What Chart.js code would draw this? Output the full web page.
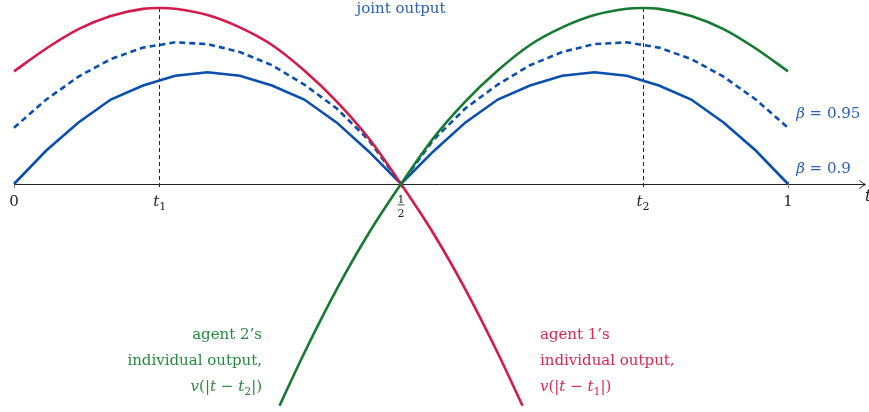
<!DOCTYPE html>
<html><head><meta charset="utf-8">
<script src="https://cdn.jsdelivr.net/npm/chart.js@4"></script>
<style>html,body{margin:0;padding:0;background:#fff;}#wrap{width:869px;height:412px;}</style>
</head><body><div id="wrap"><canvas id="c" width="869" height="412"></canvas></div>
<script>
// ---- data (t on [0,1], output in units of peak individual output) ----
const tGrid = [0, 0.0417, 0.0833, 0.125, 0.1667, 0.2083, 0.25, 0.2917, 0.3333, 0.375, 0.4167, 0.4583, 0.5,
               0.5417, 0.5833, 0.625, 0.6667, 0.7083, 0.75, 0.7917, 0.8333, 0.875, 0.9167, 0.9583, 1];
const jointBeta090 = [0, 0.19, 0.35, 0.48, 0.56, 0.615, 0.635, 0.615, 0.56, 0.48, 0.35, 0.185, 0,
                      0.185, 0.35, 0.48, 0.56, 0.615, 0.635, 0.615, 0.56, 0.48, 0.35, 0.19, 0];
const jointBeta095 = [0.32, 0.48, 0.61, 0.71, 0.775, 0.805, 0.795, 0.75, 0.675, 0.565, 0.43, 0.25, 0,
                      0.25, 0.43, 0.565, 0.675, 0.75, 0.795, 0.805, 0.775, 0.71, 0.61, 0.48, 0.32];
const agent1T = [0, 0.0417, 0.0833, 0.125, 0.1667, 0.1877, 0.2083, 0.25, 0.2917, 0.3333, 0.375, 0.4167, 0.4583, 0.5, 0.5417, 0.5833, 0.625, 0.657];
const agent1V = [0.64, 0.77, 0.88, 0.955, 0.995, 1.0, 0.996, 0.96, 0.89, 0.79, 0.645, 0.47, 0.26, 0, -0.28, -0.60, -0.96, -1.26];
const agent2T = [0.343, 0.375, 0.4167, 0.4583, 0.5, 0.5417, 0.5833, 0.625, 0.6667, 0.7083, 0.75, 0.7917, 0.8123, 0.8333, 0.875, 0.9167, 0.9583, 1];
const agent2V = [-1.26, -0.96, -0.60, -0.28, 0, 0.26, 0.47, 0.645, 0.79, 0.89, 0.96, 0.996, 1.0, 0.995, 0.955, 0.88, 0.77, 0.64];
const t1 = 0.1877, t2 = 0.8123;
const tickLabels = ['0', 't1', '1/2', 't2', '1'];
const tickValues = [0, t1, 0.5, t2, 1];

const RED = '#d41a4a', GREEN = '#167a32', BLUE = '#0a4fae';
const TXT_BLUE = '#2a60b8', TXT_RED = '#d6284f', TXT_GREEN = '#268a3c';
const F = '"DejaVu Serif", serif';

const pts = (xs, ys) => xs.map((x, i) => ({x, y: ys[i]}));

function rich(ctx, segs, x, y, align, size, color) {
  ctx.save();
  ctx.fillStyle = color;
  ctx.textBaseline = 'alphabetic';
  ctx.textAlign = 'left';
  const fontOf = s => (s.it ? 'italic ' : '') + (s.sub ? Math.round(size * 0.72) : size) + 'px ' + F;
  let w = 0;
  segs.forEach(s => { ctx.font = fontOf(s); w += ctx.measureText(s.t).width; });
  let cx = align === 'right' ? x - w : align === 'center' ? x - w / 2 : x;
  segs.forEach(s => {
    ctx.font = fontOf(s);
    ctx.fillText(s.t, cx, y + (s.sub ? size * 0.27 : 0));
    cx += ctx.measureText(s.t).width;
  });
  ctx.restore();
}

const deco = {
  id: 'deco',
  beforeDatasetsDraw(chart) {
    const {ctx, scales: {x, y}} = chart;
    const y0 = y.getPixelForValue(0);
    ctx.save();
    // horizontal axis with arrow
    ctx.strokeStyle = '#222'; ctx.lineWidth = 1;
    ctx.beginPath(); ctx.moveTo(x.getPixelForValue(0), y0 + 0.5); ctx.lineTo(x.getPixelForValue(1.1) , y0 + 0.5); ctx.stroke();
    const ax = x.getPixelForValue(1.1);
    ctx.beginPath();
    ctx.moveTo(ax - 6, y0 - 3.5); ctx.quadraticCurveTo(ax - 2, y0 - 0.5, ax, y0 + 0.5);
    ctx.quadraticCurveTo(ax - 2, y0 + 1.5, ax - 6, y0 + 4.5);
    ctx.stroke();
    // small ticks
    ctx.strokeStyle = '#777';
    [0, 0.5, 1].forEach(v => {
      const px = Math.round(x.getPixelForValue(v)) + 0.5;
      ctx.beginPath(); ctx.moveTo(px, y0 - 2.5); ctx.lineTo(px, y0 + 4); ctx.stroke();
    });
    // dashed verticals at t1, t2
    ctx.strokeStyle = '#222'; ctx.setLineDash([4, 3]);
    [t1, t2].forEach(v => {
      const px = Math.round(x.getPixelForValue(v)) + 0.5;
      ctx.beginPath(); ctx.moveTo(px, y.getPixelForValue(1)); ctx.lineTo(px, y0 + 6); ctx.stroke();
    });
    ctx.restore();
  },
  afterDatasetsDraw(chart) {
    const {ctx, scales: {x, y}} = chart;
    const y0 = y.getPixelForValue(0);
    const base = y0 + 22;
    // tick labels
    tickLabels.forEach((lab, i) => {
      const px = x.getPixelForValue(tickValues[i]);
      if (lab === '1/2') {
        ctx.save();
        ctx.fillStyle = '#222'; ctx.font = '11px ' + F; ctx.textAlign = 'center'; ctx.textBaseline = 'alphabetic';
        ctx.fillText('1', px, y0 + 18.5);
        ctx.fillText('2', px, y0 + 33);
        ctx.fillRect(px - 3.5, y0 + 20.5, 7, 0.8);
        ctx.restore();
      } else if (lab[0] === 't') {
        rich(ctx, [{t: ' '}, {t: 't', it: true}, {t: lab.slice(1), sub: true}], px - 2, base, 'center', 15, '#222');
      } else {
        rich(ctx, [{t: lab}], px, base, 'center', 15, '#222');
      }
    });
    rich(ctx, [{t: 't', it: true}], x.getPixelForValue(1.0995), y0 + 17, 'left', 16, '#222');
    // annotations
    rich(ctx, [{t: 'joint output'}], x.getPixelForValue(0.5), 12.5, 'center', 15, TXT_BLUE);
    rich(ctx, [{t: 'β', it: true}, {t: ' = 0.95'}], x.getPixelForValue(1.0105), y.getPixelForValue(0.376), 'left', 15, TXT_BLUE);
    rich(ctx, [{t: 'β', it: true}, {t: ' = 0.9'}], x.getPixelForValue(1.0105), y.getPixelForValue(0.063), 'left', 15, TXT_BLUE);
    const lx1 = x.getPixelForValue(0.6795), lx2 = x.getPixelForValue(0.3205);
    const b1 = y.getPixelForValue(-0.881), b2 = y.getPixelForValue(-1.028), b3 = y.getPixelForValue(-1.176);
    rich(ctx, [{t: 'agent 1’s'}], lx1, b1, 'left', 15, TXT_RED);
    rich(ctx, [{t: 'individual output,'}], lx1, b2, 'left', 15, TXT_RED);
    rich(ctx, [{t: 'v', it: true}, {t: '(|'}, {t: 't', it: true}, {t: ' − '}, {t: 't', it: true}, {t: '1', sub: true}, {t: '|)'}], lx1, b3, 'left', 15, TXT_RED);
    rich(ctx, [{t: 'agent 2’s'}], lx2, b1, 'right', 15, TXT_GREEN);
    rich(ctx, [{t: 'individual output,'}], lx2, b2, 'right', 15, TXT_GREEN);
    rich(ctx, [{t: 'v', it: true}, {t: '(|'}, {t: 't', it: true}, {t: ' − '}, {t: 't', it: true}, {t: '2', sub: true}, {t: '|)'}], lx2, b3, 'right', 15, TXT_GREEN);
  }
};

new Chart(document.getElementById('c'), {
  type: 'scatter',
  data: {
    datasets: [
      {label: 'agent 2', data: pts(agent2T, agent2V), borderColor: GREEN, borderWidth: 2.6, showLine: true, pointRadius: 0, cubicInterpolationMode: 'monotone', fill: false},
      {label: 'agent 1', data: pts(agent1T, agent1V), borderColor: RED, borderWidth: 2.6, showLine: true, pointRadius: 0, cubicInterpolationMode: 'monotone', fill: false},
      {label: 'beta 0.95', data: pts(tGrid, jointBeta095), borderColor: BLUE, borderWidth: 2.6, borderDash: [6, 4], showLine: true, pointRadius: 0, tension: 0, fill: false},
      {label: 'beta 0.9', data: pts(tGrid, jointBeta090), borderColor: BLUE, borderWidth: 2.6, showLine: true, pointRadius: 0, tension: 0, fill: false}
    ]
  },
  options: {
    responsive: false, animation: false, devicePixelRatio: 1,
    layout: {padding: 0},
    plugins: {legend: {display: false}, tooltip: {enabled: false}},
    scales: {
      x: {type: 'linear', display: false, min: -0.01809, max: 1.10465},
      y: {type: 'linear', display: false, min: -1.2955, max: 1.0455}
    }
  },
  plugins: [deco]
});
</script>
</body></html>
